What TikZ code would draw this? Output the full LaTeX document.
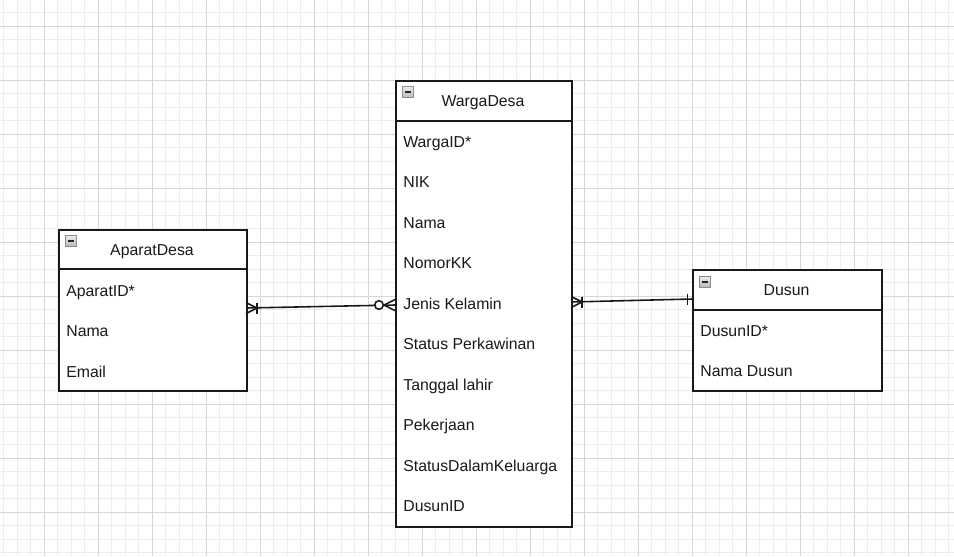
\documentclass[tikz,border=0pt]{standalone}
\usepackage{fontspec}
\setmainfont{Liberation Sans}
\begin{document}
\begin{tikzpicture}[
  x=0.02cm, y=-0.02cm,
  every node/.style={font=\fontsize{9}{11}\selectfont, text=black!90},
  entity/.style={draw=black!90, line width=1pt, fill=white, inner sep=0pt, anchor=north west},
  attr/.style={anchor=base west, inner sep=0pt},
  title/.style={anchor=base, inner sep=0pt},
  minusicon/.style={draw=gray!90, top color=gray!15, bottom color=gray!55, minimum size=0.22cm, inner sep=0pt, anchor=north west,
    path picture={\draw[black!85, line width=1pt] ([xshift=1.4pt]path picture bounding box.west) -- ([xshift=-1.4pt]path picture bounding box.east);}},
  gridminor/.style={black!7, line width=0.4pt},
  gridmajor/.style={black!16, line width=0.5pt},
  rel/.style={draw=black!90, line width=0.9pt},
  manybar/.pic={\draw[rel] (0,-5.5) -- (11,0) -- (0,5.5); \draw[rel] (11,-5.5) -- (11,5.5);},
  zeromany/.pic={\draw[rel] (0,-5.5) -- (11,0) -- (0,5.5); \draw[rel, fill=white] (16,0) circle (4.3);},
  onebar/.pic={\draw[rel] (4.5,-5.5) -- (4.5,5.5);}
]
  \useasboundingbox (0,0) rectangle (954,556);
  \fill[white] (0,0) rectangle (954,556);

  % grid
  \foreach \i in {0,...,70} \draw[gridminor] ({3.5+13.5*\i},0) -- ++(0,556);
  \foreach \i in {0,...,40} \draw[gridminor] (0,{12.5+13.5*\i}) -- ++(954,0);
  \foreach \i in {0,...,16} \draw[gridmajor] ({44+54*\i},0) -- ++(0,556);
  \foreach \i in {0,...,9} \draw[gridmajor] (0,{26+54*\i}) -- ++(954,0);

  % entities
  \node[entity, minimum width=3.76cm, minimum height=3.22cm] (aparat) at (58,229) {};
  \node[entity, minimum width=3.52cm, minimum height=8.92cm] (warga) at (395,80) {};
  \node[entity, minimum width=3.78cm, minimum height=2.42cm] (dusun) at (692,269) {};
  \draw[rel, line width=1pt] (aparat.north west) ++(0,40) -- ++(188,0);
  \draw[rel, line width=1pt] (warga.north west) ++(0,41) -- ++(176,0);
  \draw[rel, line width=1pt] (dusun.north west) ++(0,41) -- ++(189,0);

  \node[minusicon] (aparat-ic) at (65,235) {};
  \node[minusicon] (warga-ic) at (402,86) {};
  \node[minusicon] (dusun-ic) at (699,276) {};

  \node[title] (aparat-t) at (152,255) {AparatDesa};
  \node[title] (warga-t) at (483,106) {WargaDesa};
  \node[title] (dusun-t) at (786.5,295.5) {Dusun};

  % attributes
  \node[attr] (aparat-1) at (66,296) {AparatID*};
  \node[attr] (aparat-2) at (66,336.5) {Nama};
  \node[attr] (aparat-3) at (66,377) {Email};

  \foreach \txt [count=\i] in {WargaID*, NIK, Nama, NomorKK, Jenis Kelamin, Status Perkawinan, Tanggal lahir, Pekerjaan, StatusDalamKeluarga, DusunID}
    \node[attr] (warga-\i) at (403,{106.5+40.5*\i}) {\txt};

  \node[attr] (dusun-1) at (700,336) {DusunID*};
  \node[attr] (dusun-2) at (700,376.5) {Nama Dusun};

  % relations
  \coordinate (ae) at (246,308);
  \coordinate (wl) at (395,305);
  \coordinate (wr) at (571,302);
  \coordinate (dl) at (692,299);
  \draw[rel] (ae) -- (wl);
  \draw[rel] (wr) -- (dl);
  \pic at (ae) {manybar};
  \pic[xscale=-1] at (wl) {zeromany};
  \pic at (wr) {manybar};
  \pic[xscale=-1] at (dl) {onebar};
\end{tikzpicture}
\end{document}
